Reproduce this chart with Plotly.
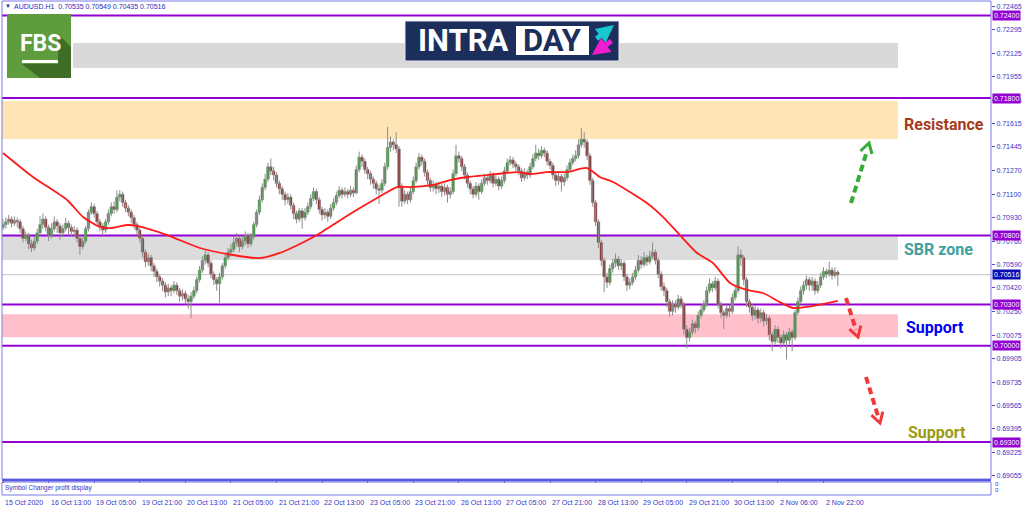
import plotly.graph_objects as go

# AUDUSD H1, 15 Oct - 3 Nov 2020
opens = [
    0.7086, 0.7088, 0.7090, 0.7092, 0.7089, 0.7091, 0.7090, 0.7085, 0.7078, 0.7080,
    0.7074, 0.7071, 0.7076, 0.7082, 0.7088, 0.7092, 0.7086, 0.7080, 0.7085, 0.7090,
    0.7087, 0.7082, 0.7085, 0.7089, 0.7086, 0.7083, 0.7084, 0.7078, 0.7072, 0.7076,
    0.7085, 0.7097, 0.7101, 0.7096, 0.7090, 0.7087, 0.7084, 0.7090, 0.7096, 0.7101,
    0.7099, 0.7108, 0.7110, 0.7104, 0.7100, 0.7097, 0.7093, 0.7088, 0.7084, 0.7078,
    0.7068, 0.7061, 0.7064, 0.7058, 0.7054, 0.7050, 0.7047, 0.7044, 0.7039, 0.7042,
    0.7040, 0.7044, 0.7040, 0.7036, 0.7038, 0.7034, 0.7032, 0.7036, 0.7040, 0.7048,
    0.7055, 0.7062, 0.7066, 0.7060, 0.7052, 0.7048, 0.7045, 0.7050, 0.7058, 0.7064,
    0.7068, 0.7070, 0.7075, 0.7078, 0.7072, 0.7076, 0.7080, 0.7074, 0.7079, 0.7088,
    0.7097, 0.7106, 0.7115, 0.7121, 0.7130, 0.7127, 0.7124, 0.7118, 0.7114, 0.7110,
    0.7106, 0.7108, 0.7102, 0.7096, 0.7092, 0.7098, 0.7093, 0.7097, 0.7101, 0.7107,
    0.7112, 0.7106, 0.7099, 0.7095, 0.7097, 0.7094, 0.7100, 0.7104, 0.7109, 0.7113,
    0.7110, 0.7112, 0.7110, 0.7113, 0.7111, 0.7128, 0.7137, 0.7134, 0.7128, 0.7125,
    0.7121, 0.7118, 0.7114, 0.7113, 0.7118, 0.7130, 0.7144, 0.7148, 0.7146, 0.7143,
    0.7115, 0.7105, 0.7110, 0.7106, 0.7112, 0.7120, 0.7130, 0.7137, 0.7134, 0.7126,
    0.7120, 0.7115, 0.7117, 0.7114, 0.7116, 0.7112, 0.7115, 0.7110, 0.7112, 0.7125,
    0.7138, 0.7136, 0.7130, 0.7124, 0.7118, 0.7114, 0.7110, 0.7116, 0.7112, 0.7118,
    0.7122, 0.7120, 0.7124, 0.7118, 0.7121, 0.7116, 0.7120, 0.7127, 0.7133, 0.7135,
    0.7132, 0.7130, 0.7127, 0.7122, 0.7126, 0.7124, 0.7130, 0.7136, 0.7140, 0.7138,
    0.7142, 0.7140, 0.7134, 0.7131, 0.7124, 0.7120, 0.7123, 0.7119, 0.7122, 0.7128,
    0.7133, 0.7136, 0.7138, 0.7146, 0.7150, 0.7148, 0.7138, 0.7120, 0.7104, 0.7090,
    0.7075, 0.7062, 0.7050, 0.7046, 0.7056, 0.7060, 0.7063, 0.7058, 0.7060, 0.7050,
    0.7044, 0.7046, 0.7050, 0.7055, 0.7062, 0.7059, 0.7064, 0.7061, 0.7065, 0.7068,
    0.7062, 0.7052, 0.7043, 0.7040, 0.7032, 0.7025, 0.7030, 0.7028, 0.7034, 0.7030,
    0.7012, 0.7006, 0.7010, 0.7016, 0.7013, 0.7022, 0.7026, 0.7030, 0.7040, 0.7045,
    0.7042, 0.7047, 0.7030, 0.7024, 0.7022, 0.7027, 0.7025, 0.7035, 0.7040, 0.7066,
    0.7064, 0.7048, 0.7032, 0.7028, 0.7022, 0.7026, 0.7020, 0.7024, 0.7018, 0.7020,
    0.7008, 0.7003, 0.7012, 0.7006, 0.7002, 0.7008, 0.7004, 0.7010, 0.7006, 0.7024,
    0.7032, 0.7040, 0.7044, 0.7048, 0.7044, 0.7047, 0.7040, 0.7044, 0.7050, 0.7054,
    0.7052, 0.7055, 0.7051, 0.70535,
]
highs = [
    0.7092, 0.7093, 0.7095, 0.7094, 0.7094, 0.7093, 0.7092, 0.7087, 0.7083, 0.7082,
    0.7077, 0.7079, 0.7085, 0.7094, 0.7096, 0.7094, 0.7088, 0.7089, 0.7094, 0.7092,
    0.7089, 0.7088, 0.7093, 0.7091, 0.7088, 0.7087, 0.7086, 0.7080, 0.7079, 0.7087,
    0.7099, 0.7104, 0.7103, 0.7098, 0.7092, 0.7089, 0.7092, 0.7099, 0.7104, 0.7105,
    0.7113, 0.7113, 0.7112, 0.7106, 0.7102, 0.7099, 0.7095, 0.7090, 0.7086, 0.7080,
    0.7070, 0.7067, 0.7066, 0.7060, 0.7056, 0.7052, 0.7049, 0.7046, 0.7045, 0.7044,
    0.7047, 0.7046, 0.7042, 0.7041, 0.7040, 0.7037, 0.7039, 0.7043, 0.7050, 0.7058,
    0.7065, 0.7069, 0.7068, 0.7062, 0.7054, 0.7050, 0.7053, 0.7060, 0.7067, 0.7071,
    0.7074, 0.7079, 0.7082, 0.7080, 0.7079, 0.7083, 0.7082, 0.7082, 0.7090, 0.7099,
    0.7109, 0.7118, 0.7125, 0.7133, 0.7136, 0.7130, 0.7126, 0.7120, 0.7116, 0.7112,
    0.7111, 0.7110, 0.7104, 0.7098, 0.7100, 0.7100, 0.7100, 0.7104, 0.7110, 0.7115,
    0.7114, 0.7108, 0.7101, 0.7100, 0.7099, 0.7103, 0.7107, 0.7112, 0.7116, 0.7115,
    0.7115, 0.7114, 0.7116, 0.7115, 0.7131, 0.7141, 0.7139, 0.7136, 0.7130, 0.7127,
    0.7123, 0.7120, 0.7117, 0.7121, 0.7133, 0.7159, 0.7152, 0.7150, 0.7155, 0.7145,
    0.7118, 0.7113, 0.7112, 0.7115, 0.7123, 0.7133, 0.7140, 0.7139, 0.7136, 0.7128,
    0.7122, 0.7120, 0.7119, 0.7119, 0.7118, 0.7118, 0.7117, 0.7115, 0.7128, 0.7146,
    0.7141, 0.7138, 0.7132, 0.7126, 0.7120, 0.7116, 0.7119, 0.7118, 0.7121, 0.7125,
    0.7124, 0.7127, 0.7126, 0.7124, 0.7123, 0.7123, 0.7130, 0.7136, 0.7138, 0.7137,
    0.7134, 0.7132, 0.7129, 0.7129, 0.7128, 0.7133, 0.7139, 0.7146, 0.7143, 0.7145,
    0.7144, 0.7142, 0.7136, 0.7133, 0.7126, 0.7126, 0.7125, 0.7125, 0.7131, 0.7136,
    0.7139, 0.7142, 0.7150, 0.7158, 0.7155, 0.7150, 0.7140, 0.7122, 0.7106, 0.7092,
    0.7077, 0.7064, 0.7053, 0.7059, 0.7063, 0.7067, 0.7065, 0.7063, 0.7062, 0.7052,
    0.7049, 0.7053, 0.7058, 0.7066, 0.7065, 0.7068, 0.7066, 0.7069, 0.7075, 0.7070,
    0.7064, 0.7054, 0.7046, 0.7042, 0.7034, 0.7033, 0.7033, 0.7037, 0.7036, 0.7032,
    0.7015, 0.7013, 0.7019, 0.7018, 0.7025, 0.7029, 0.7033, 0.7043, 0.7049, 0.7047,
    0.7050, 0.7049, 0.7032, 0.7026, 0.7030, 0.7029, 0.7038, 0.7044, 0.7072, 0.7070,
    0.7066, 0.7050, 0.7034, 0.7030, 0.7029, 0.7028, 0.7027, 0.7026, 0.7023, 0.7022,
    0.7010, 0.7015, 0.7014, 0.7008, 0.7011, 0.7010, 0.7013, 0.7012, 0.7026, 0.7035,
    0.7043, 0.7047, 0.7051, 0.7050, 0.7050, 0.7049, 0.7047, 0.7053, 0.7057, 0.7056,
    0.7061, 0.7057, 0.7057, 0.70549,
]
lows = [
    0.7084, 0.7085, 0.7088, 0.7086, 0.7087, 0.7086, 0.7082, 0.7075, 0.7076, 0.7070,
    0.7068, 0.7069, 0.7074, 0.7080, 0.7085, 0.7083, 0.7076, 0.7078, 0.7083, 0.7082,
    0.7077, 0.7079, 0.7083, 0.7081, 0.7079, 0.7080, 0.7075, 0.7066, 0.7070, 0.7074,
    0.7083, 0.7095, 0.7093, 0.7087, 0.7083, 0.7080, 0.7082, 0.7088, 0.7094, 0.7096,
    0.7097, 0.7105, 0.7101, 0.7097, 0.7094, 0.7089, 0.7085, 0.7081, 0.7075, 0.7064,
    0.7057, 0.7058, 0.7054, 0.7050, 0.7046, 0.7043, 0.7040, 0.7035, 0.7036, 0.7036,
    0.7038, 0.7037, 0.7032, 0.7033, 0.7030, 0.7027, 0.7020, 0.7034, 0.7038, 0.7046,
    0.7053, 0.7059, 0.7057, 0.7049, 0.7044, 0.7040, 0.7031, 0.7048, 0.7056, 0.7062,
    0.7065, 0.7068, 0.7072, 0.7068, 0.7070, 0.7073, 0.7071, 0.7072, 0.7077, 0.7086,
    0.7095, 0.7104, 0.7113, 0.7119, 0.7124, 0.7120, 0.7115, 0.7110, 0.7106, 0.7102,
    0.7103, 0.7099, 0.7092, 0.7089, 0.7090, 0.7085, 0.7091, 0.7095, 0.7099, 0.7105,
    0.7103, 0.7096, 0.7091, 0.7092, 0.7090, 0.7092, 0.7098, 0.7102, 0.7107, 0.7107,
    0.7108, 0.7107, 0.7108, 0.7108, 0.7110, 0.7126, 0.7130, 0.7125, 0.7121, 0.7117,
    0.7114, 0.7110, 0.7103, 0.7111, 0.7116, 0.7128, 0.7141, 0.7142, 0.7140, 0.7101,
    0.7101, 0.7103, 0.7103, 0.7104, 0.7110, 0.7118, 0.7128, 0.7131, 0.7123, 0.7117,
    0.7112, 0.7112, 0.7110, 0.7111, 0.7108, 0.7109, 0.7104, 0.7107, 0.7110, 0.7123,
    0.7133, 0.7127, 0.7121, 0.7115, 0.7110, 0.7107, 0.7108, 0.7106, 0.7110, 0.7116,
    0.7117, 0.7118, 0.7115, 0.7116, 0.7113, 0.7114, 0.7118, 0.7125, 0.7131, 0.7129,
    0.7127, 0.7124, 0.7119, 0.7120, 0.7121, 0.7122, 0.7128, 0.7134, 0.7135, 0.7136,
    0.7137, 0.7131, 0.7128, 0.7121, 0.7116, 0.7117, 0.7112, 0.7116, 0.7120, 0.7126,
    0.7131, 0.7134, 0.7136, 0.7144, 0.7144, 0.7135, 0.7117, 0.7101, 0.7087, 0.7071,
    0.7058, 0.7039, 0.7042, 0.7044, 0.7053, 0.7057, 0.7055, 0.7055, 0.7047, 0.7040,
    0.7041, 0.7044, 0.7048, 0.7053, 0.7056, 0.7057, 0.7058, 0.7059, 0.7063, 0.7059,
    0.7049, 0.7040, 0.7036, 0.7028, 0.7021, 0.7022, 0.7024, 0.7026, 0.7027, 0.7008,
    0.6998, 0.7003, 0.7008, 0.7009, 0.7011, 0.7020, 0.7024, 0.7028, 0.7038, 0.7039,
    0.7040, 0.7027, 0.7020, 0.7012, 0.7020, 0.7021, 0.7023, 0.7033, 0.7038, 0.7058,
    0.7044, 0.7028, 0.7024, 0.7018, 0.7019, 0.7016, 0.7017, 0.7014, 0.7015, 0.7004,
    0.6996, 0.7001, 0.7002, 0.6998, 0.6999, 0.6990, 0.7001, 0.6996, 0.7004, 0.7022,
    0.7030, 0.7037, 0.7041, 0.7040, 0.7040, 0.7037, 0.7038, 0.7042, 0.7048, 0.7049,
    0.7050, 0.7048, 0.7049, 0.70435,
]
closes = [
    0.7088, 0.7090, 0.7092, 0.7089, 0.7091, 0.7090, 0.7085, 0.7078, 0.7080, 0.7074,
    0.7071, 0.7076, 0.7082, 0.7088, 0.7092, 0.7086, 0.7080, 0.7085, 0.7090, 0.7087,
    0.7082, 0.7085, 0.7089, 0.7086, 0.7083, 0.7084, 0.7078, 0.7072, 0.7076, 0.7085,
    0.7097, 0.7101, 0.7096, 0.7090, 0.7087, 0.7084, 0.7090, 0.7096, 0.7101, 0.7099,
    0.7108, 0.7110, 0.7104, 0.7100, 0.7097, 0.7093, 0.7088, 0.7084, 0.7078, 0.7068,
    0.7061, 0.7064, 0.7058, 0.7054, 0.7050, 0.7047, 0.7044, 0.7039, 0.7042, 0.7040,
    0.7044, 0.7040, 0.7036, 0.7038, 0.7034, 0.7032, 0.7036, 0.7040, 0.7048, 0.7055,
    0.7062, 0.7066, 0.7060, 0.7052, 0.7048, 0.7045, 0.7050, 0.7058, 0.7064, 0.7068,
    0.7070, 0.7075, 0.7078, 0.7072, 0.7076, 0.7080, 0.7074, 0.7079, 0.7088, 0.7097,
    0.7106, 0.7115, 0.7121, 0.7130, 0.7127, 0.7124, 0.7118, 0.7114, 0.7110, 0.7106,
    0.7108, 0.7102, 0.7096, 0.7092, 0.7098, 0.7093, 0.7097, 0.7101, 0.7107, 0.7112,
    0.7106, 0.7099, 0.7095, 0.7097, 0.7094, 0.7100, 0.7104, 0.7109, 0.7113, 0.7110,
    0.7112, 0.7110, 0.7113, 0.7111, 0.7128, 0.7137, 0.7134, 0.7128, 0.7125, 0.7121,
    0.7118, 0.7114, 0.7113, 0.7118, 0.7130, 0.7144, 0.7148, 0.7146, 0.7143, 0.7115,
    0.7105, 0.7110, 0.7106, 0.7112, 0.7120, 0.7130, 0.7137, 0.7134, 0.7126, 0.7120,
    0.7115, 0.7117, 0.7114, 0.7116, 0.7112, 0.7115, 0.7110, 0.7112, 0.7125, 0.7138,
    0.7136, 0.7130, 0.7124, 0.7118, 0.7114, 0.7110, 0.7116, 0.7112, 0.7118, 0.7122,
    0.7120, 0.7124, 0.7118, 0.7121, 0.7116, 0.7120, 0.7127, 0.7133, 0.7135, 0.7132,
    0.7130, 0.7127, 0.7122, 0.7126, 0.7124, 0.7130, 0.7136, 0.7140, 0.7138, 0.7142,
    0.7140, 0.7134, 0.7131, 0.7124, 0.7120, 0.7123, 0.7119, 0.7122, 0.7128, 0.7133,
    0.7136, 0.7138, 0.7146, 0.7150, 0.7148, 0.7138, 0.7120, 0.7104, 0.7090, 0.7075,
    0.7062, 0.7050, 0.7046, 0.7056, 0.7060, 0.7063, 0.7058, 0.7060, 0.7050, 0.7044,
    0.7046, 0.7050, 0.7055, 0.7062, 0.7059, 0.7064, 0.7061, 0.7065, 0.7068, 0.7062,
    0.7052, 0.7043, 0.7040, 0.7032, 0.7025, 0.7030, 0.7028, 0.7034, 0.7030, 0.7012,
    0.7006, 0.7010, 0.7016, 0.7013, 0.7022, 0.7026, 0.7030, 0.7040, 0.7045, 0.7042,
    0.7047, 0.7030, 0.7024, 0.7022, 0.7027, 0.7025, 0.7035, 0.7040, 0.7066, 0.7064,
    0.7048, 0.7032, 0.7028, 0.7022, 0.7026, 0.7020, 0.7024, 0.7018, 0.7020, 0.7008,
    0.7003, 0.7012, 0.7006, 0.7002, 0.7008, 0.7004, 0.7010, 0.7006, 0.7024, 0.7032,
    0.7040, 0.7044, 0.7048, 0.7044, 0.7047, 0.7040, 0.7044, 0.7050, 0.7054, 0.7052,
    0.7055, 0.7051, 0.70535, 0.70516,
]

# moving average (red line), sampled along the curve: bar index / price
ma_bars = [0, 10.5, 22.5, 28.1, 34, 37.6, 43.5, 47, 57.6, 69.1, 80.7, 90.2, 97.2,
           104.2, 110.2, 121.8, 131.3, 138.3, 142.9, 151, 156.9, 162.9, 169.9, 180.4,
           186, 190.9, 198, 205, 209.5, 214.1, 226, 231.7, 237.6, 243.6, 249.2, 255.2,
           261.1, 266.8, 272.7, 277.3, 284.3, 293]
ma_prices = [0.71400, 0.71226, 0.71059, 0.70935, 0.70863, 0.70855, 0.70877, 0.70870,
             0.70804, 0.70710, 0.70659, 0.70637, 0.70674, 0.70739, 0.70804, 0.70957,
             0.71073, 0.71153, 0.71153, 0.71168, 0.71204, 0.71226, 0.71240, 0.71262,
             0.71248, 0.71262, 0.71262, 0.71291, 0.71226, 0.71190, 0.71037, 0.70935,
             0.70804, 0.70674, 0.70601, 0.70456, 0.70405, 0.70383, 0.70317, 0.70274,
             0.70288, 0.70325]

time_tick_bars = [0, 16, 32, 48, 64, 80, 96, 112, 128, 144, 160, 176, 192, 208, 224,
                  240, 256, 272, 288]
time_tick_labels = ["15 Oct 2020", "16 Oct 13:00", "19 Oct 05:00", "19 Oct 21:00",
                    "20 Oct 13:00", "21 Oct 05:00", "21 Oct 21:00", "22 Oct 13:00",
                    "23 Oct 05:00", "23 Oct 21:00", "26 Oct 13:00", "27 Oct 05:00",
                    "27 Oct 21:00", "28 Oct 13:00", "29 Oct 05:00", "29 Oct 21:00",
                    "30 Oct 13:00", "2 Nov 06:00", "2 Nov 22:00"]

price_ticks = [0.72465, 0.72295, 0.72125, 0.71955, 0.71785, 0.71615, 0.71445, 0.71270,
               0.71100, 0.70930, 0.70760, 0.70590, 0.70420, 0.70250, 0.70075, 0.69905,
               0.69735, 0.69565, 0.69395, 0.69225, 0.69055]

levels = [0.7240, 0.7180, 0.7080, 0.7030, 0.7000, 0.6930]
last_price = 0.70516

zone_names = ["Resistance", "SBR zone", "Support", "Support"]
zone_low = [0.71502, 0.70623, 0.70061, None]
zone_high = [0.71778, 0.70800, 0.70228, None]
zone_label_price = [0.71604, 0.70699, 0.70132, 0.69369]

# ---- layout geometry (pixels of the 1024x511 picture) ----
W, H = 1024, 511
L, R, T, B = 2, 33, 1, 16
PW, PH = W - L - R, H - T - B
BAR_PX = 2.849
X0 = -(3 - L) / BAR_PX
X1 = X0 + PW / BAR_PX
Y_TOP = 0.718 + 97 * 7.267e-5
Y_BOT = 0.718 - 381 * 7.267e-5
MAIN_BOTTOM = (H - B - 479) / PH
SUB_TOP = (H - B - 482) / PH


def px(x):
    return (x - L) / PW


def py(y):
    return (H - B - y) / PH


def bar_at(x):
    return (x - 3) / BAR_PX


def price_at(y):
    return 0.718 - (y - 98) * 7.267e-5


AXIS_BLUE = "#4a4ad8"
TXT_BLUE = "#3535c8"
PURPLE = "#9400d3"
WICK = "#8c8c8c"

fig = go.Figure()

# wicks
wx, wy = [], []
for i, (hi, lo) in enumerate(zip(highs, lows)):
    wx += [i, i, None]
    wy += [lo, hi, None]
fig.add_trace(go.Scatter(x=wx, y=wy, mode="lines", line=dict(color=WICK, width=1),
                         hoverinfo="skip"))

# bodies: filled with bull/bear colour, grey outline like the MT4 candles
bull = [i for i in range(len(closes)) if closes[i] >= opens[i]]
bear = [i for i in range(len(closes)) if closes[i] < opens[i]]
fig.add_trace(go.Bar(x=bull, base=[opens[i] for i in bull],
                     y=[max(closes[i] - opens[i], 0.00002) for i in bull],
                     width=0.9, marker=dict(color="#19a019", line=dict(width=0.6, color=WICK))))
fig.add_trace(go.Bar(x=bear, base=[closes[i] for i in bear],
                     y=[opens[i] - closes[i] for i in bear],
                     width=0.9, marker=dict(color="#8b0000", line=dict(width=0.6, color=WICK))))

fig.add_trace(go.Scatter(x=ma_bars, y=ma_prices, mode="lines",
                         line=dict(color="#ff1a1a", width=1.8, shape="spline", smoothing=0.6)))

# dashed forecast arrows (shaft + chevron head), pixel positions from the picture
arrows = [
    ("#36ab36", (851, 203), (867, 151), [(860.5, 151), (869, 143), (872, 154)]),
    ("#f03a3a", (846, 298), (856, 330), [(849.4, 329.2), (858, 337), (860.8, 325.6)]),
    ("#f03a3a", (866, 377), (878, 416), [(871.4, 415.2), (880, 423), (882.8, 411.7)]),
]
for color, a, b, head in arrows:
    fig.add_trace(go.Scatter(x=[bar_at(a[0]), bar_at(b[0])], y=[price_at(a[1]), price_at(b[1])],
                             mode="lines", line=dict(color=color, width=4, dash="7px,4px")))
    fig.add_trace(go.Scatter(x=[bar_at(p[0]) for p in head], y=[price_at(p[1]) for p in head],
                             mode="lines", line=dict(color=color, width=3)))

shapes = []
# grey band behind the INTRADAY banner
shapes.append(dict(type="rect", xref="paper", yref="paper", x0=px(73), x1=px(898),
                   y0=py(68), y1=py(43), fillcolor="#d9d9d9", line_width=0, layer="below"))
zone_colors = ["#ffe4b5", "#dcdcdc", "#ffc0cb"]
for lo, hi, c in zip(zone_low[:3], zone_high[:3], zone_colors):
    shapes.append(dict(type="rect", xref="paper", yref="y", x0=0, x1=px(898), y0=lo, y1=hi,
                       fillcolor=c, line_width=0, layer="below"))
shapes.append(dict(type="line", xref="paper", yref="y", x0=0, x1=1, y0=last_price,
                   y1=last_price, line=dict(color="#c0c0c0", width=1), layer="below"))
for lv in levels:
    shapes.append(dict(type="line", xref="paper", yref="y", x0=0, x1=1, y0=lv, y1=lv,
                       line=dict(color=PURPLE, width=2), layer="below"))
# chart frames
shapes.append(dict(type="rect", xref="paper", yref="paper", x0=0, x1=1, y0=MAIN_BOTTOM, y1=1,
                   line=dict(color="#7a7ae6", width=1)))
shapes.append(dict(type="line", xref="paper", yref="paper", x0=0, x1=1, y0=py(480.3),
                   y1=py(480.3), line=dict(color="#5a5ae0", width=2.5)))
shapes.append(dict(type="rect", xref="paper", yref="paper", x0=0, x1=1, y0=0, y1=SUB_TOP,
                   line=dict(color="#7a7ae6", width=1)))

# FBS logo
shapes.append(dict(type="rect", xref="paper", yref="paper", x0=px(7), x1=px(71), y0=py(78),
                   y1=py(14), fillcolor="#5e9c3e", line_width=0))
shapes.append(dict(type="path", xref="paper", yref="paper",
                   path="M {} {} L {} {} L {} {} L {} {} L {} {} L {} {} Z".format(
                       px(58), py(34), px(71), py(47), px(71), py(78), px(40), py(78),
                       px(22), py(64), px(58), py(64)),
                   fillcolor="#3f6d26", line_width=0))
shapes.append(dict(type="rect", xref="paper", yref="paper", x0=px(22), x1=px(58), y0=py(63),
                   y1=py(60), fillcolor="white", line_width=0))
# INTRADAY banner
shapes.append(dict(type="rect", xref="paper", yref="paper", x0=px(405), x1=px(619), y0=py(61),
                   y1=py(21), fillcolor="#1c2f5c", line=dict(color="#e8e8ef", width=1)))
shapes.append(dict(type="rect", xref="paper", yref="paper", x0=px(516), x1=px(589), y0=py(55),
                   y1=py(26), fillcolor="white", line_width=0))

ann = []
for b, t in zip(time_tick_bars, time_tick_labels):
    ann.append(dict(x=b, xref="x", y=0, yref="paper", yanchor="top", xanchor="left",
                    yshift=-2, text=t, showarrow=False, font=dict(size=7, color=TXT_BLUE)))
for lv in levels:
    ann.append(dict(x=1, xref="paper", y=lv, yref="y", xanchor="left", yanchor="middle",
                    xshift=1, text="{:.5f}".format(lv), showarrow=False, bgcolor=PURPLE,
                    borderpad=1, font=dict(size=7, color="white")))
ann.append(dict(x=1, xref="paper", y=last_price, yref="y", xanchor="left", yanchor="middle",
                xshift=1, text="{:.5f}".format(last_price), showarrow=False, bgcolor="#0a0ab4",
                borderpad=1, font=dict(size=7, color="white")))

zone_text_colors = ["#a8391a", "#40a0a0", "#0000ee", "#9a9a15"]
zone_text_x = [902, 902, 904, 906]
for name, yp, c, xp in zip(zone_names, zone_label_price, zone_text_colors, zone_text_x):
    ann.append(dict(x=px(xp), xref="paper", y=yp, yref="y", xanchor="left", yanchor="middle",
                    text="<b>" + name + "</b>", showarrow=False,
                    font=dict(family="Roboto", size=16, color=c)))

ann.append(dict(x=px(3), xref="paper", y=py(6), yref="paper", xanchor="left", yanchor="middle",
                text="\u25bc", showarrow=False, font=dict(size=6, color="#2a2aa8")))
ann.append(dict(x=px(12), xref="paper", y=py(6), yref="paper", xanchor="left", yanchor="middle",
                text="AUDUSD.H1\u00a0\u00a00.70535 0.70549 0.70435 0.70516", showarrow=False,
                font=dict(size=7, color="#2a2ac0")))
ann.append(dict(x=px(3), xref="paper", y=py(487.5), yref="paper", xanchor="left",
                yanchor="middle", text="Symbol Changer profit display", showarrow=False,
                font=dict(size=6.5, color=TXT_BLUE)))
for yy in (484, 490):
    ann.append(dict(x=1, xref="paper", y=py(yy), yref="paper", xanchor="left", yanchor="middle",
                    xshift=2, text="0", showarrow=False, font=dict(size=6, color=TXT_BLUE)))

# logo texts
ann.append(dict(x=px(40), xref="paper", y=py(43), yref="paper", xanchor="center",
                yanchor="middle", text="<b>FBS</b>", showarrow=False,
                font=dict(family="Roboto", size=23, color="white")))
ann.append(dict(x=px(463), xref="paper", y=py(41), yref="paper", xanchor="center",
                yanchor="middle", text="<b>INTRA</b>", showarrow=False,
                font=dict(family="Roboto", size=31, color="white")))
ann.append(dict(x=px(552), xref="paper", y=py(41), yref="paper", xanchor="center",
                yanchor="middle", text="<b>DAY</b>", showarrow=False,
                font=dict(family="Roboto", size=31, color="#1c2f5c")))
ann.append(dict(x=px(614), xref="paper", y=py(25), yref="paper", ax=-19, ay=15, text="",
                showarrow=True, arrowhead=2, arrowsize=0.7, arrowwidth=5, arrowcolor="#17c8d0"))
ann.append(dict(x=px(592), xref="paper", y=py(55), yref="paper", ax=21, ay=-15, text="",
                showarrow=True, arrowhead=2, arrowsize=0.7, arrowwidth=5, arrowcolor="#f01ccf"))

fig.update_layout(
    width=W, height=H,
    margin=dict(l=L, r=R, t=T, b=B),
    paper_bgcolor="white", plot_bgcolor="white",
    font=dict(family="Liberation Sans", size=7, color=TXT_BLUE),
    showlegend=False, hovermode=False, barmode="overlay",
    shapes=shapes, annotations=ann,
    xaxis=dict(range=[X0, X1], anchor="y2", tickvals=time_tick_bars, showticklabels=False,
               ticks="outside", ticklen=3, tickcolor=AXIS_BLUE, showgrid=False,
               zeroline=False, showline=False, fixedrange=True),
    yaxis=dict(domain=[MAIN_BOTTOM, 1], range=[Y_BOT, Y_TOP], side="right",
               tickvals=price_ticks, tickformat=".5f", ticks="outside", ticklen=3,
               tickcolor=AXIS_BLUE, tickfont=dict(size=7, color=TXT_BLUE),
               showgrid=False, zeroline=False, showline=False, fixedrange=True),
    yaxis2=dict(domain=[0, SUB_TOP], range=[0, 1], showticklabels=False, showgrid=False,
                zeroline=False, fixedrange=True),
)

# page body has an 8px default margin; drop it so the figure sits at the window origin
fig.write_html("out.html", config={"displayModeBar": False},
               post_script="document.body.style.margin='0';")
